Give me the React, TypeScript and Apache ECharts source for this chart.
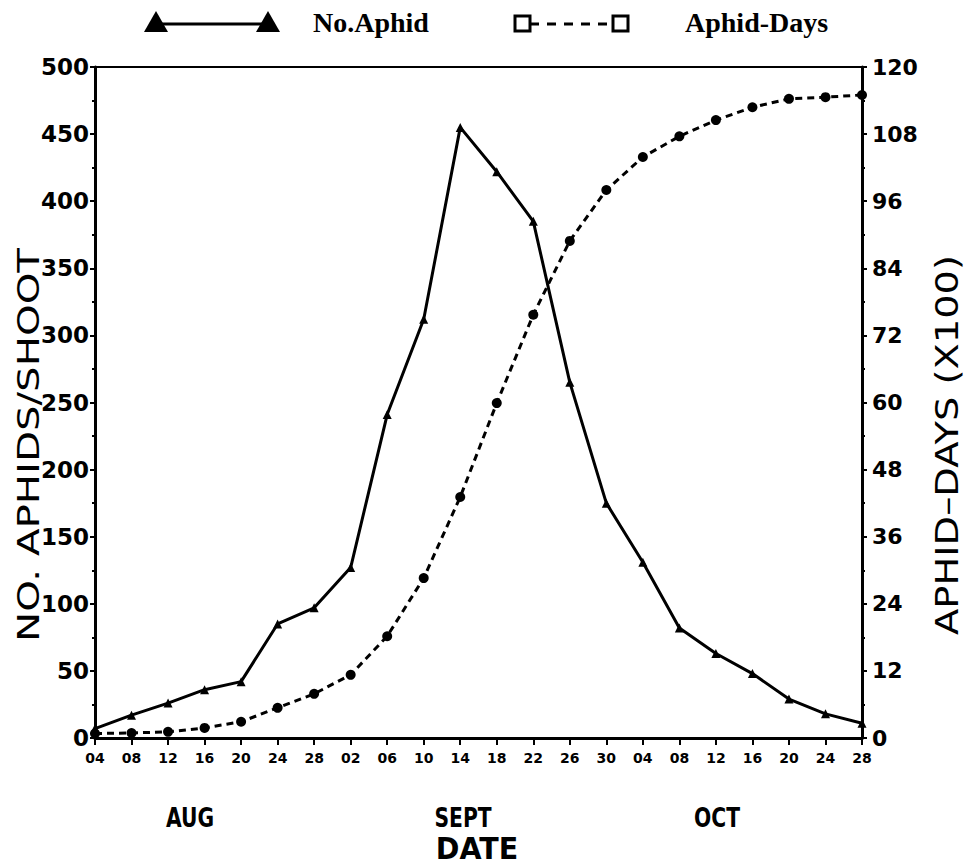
import React, { useEffect, useRef } from "react";
import * as echarts from "echarts";

const dayLabels = ["04","08","12","16","20","24","28","02","06","10","14","18","22","26","30","04","08","12","16","20","24","28"];
const monthOfDay = ["Aug","Aug","Aug","Aug","Aug","Aug","Aug","Sep","Sep","Sep","Sep","Sep","Sep","Sep","Sep","Oct","Oct","Oct","Oct","Oct","Oct","Oct"];
const categories = dayLabels.map((d, i) => `${monthOfDay[i]}-${d}`);

const noAphid = [7, 17, 26, 36, 42, 85, 97, 127, 241, 312, 455, 422, 385, 265, 175, 131, 82, 63, 48, 29, 18, 11];
const aphidDays = [0.8, 0.9, 1.1, 1.8, 2.9, 5.4, 7.9, 11.3, 18.2, 28.6, 43.1, 59.9, 75.7, 88.9, 98.0, 103.9, 107.6, 110.5, 112.8, 114.3, 114.6, 115.0];

const monthLabels = ["AUG", "SEPT", "OCT"];
const leftTitle = "NO. APHIDS/SHOOT";
const rightTitle = "APHID\u2013DAYS (X100)";
const xTitle = "DATE";
const legendNames = ["No.Aphid", "Aphid-Days"];

const SANS = "DejaVu Sans";
const SERIF = "Liberation Serif";

export default function App() {
  const ref = useRef<HTMLDivElement>(null);
  useEffect(() => {
    if (!ref.current) return;
    const chart = echarts.init(ref.current, null, { renderer: "svg" });
    const tickFont = { color: "#000", fontFamily: SANS, fontWeight: "bold" as const };
    const monthText = (i: number, x: number) => ({
      type: "text", x, y: 818, scaleX: 0.78,
      style: { text: monthLabels[i], font: `bold 26px "${SANS}"`, fill: "#000", align: "center", verticalAlign: "middle" },
    });
    const option: any = {
      animation: false,
      backgroundColor: "#fff",
      grid: {
        left: 95, right: 106, top: 67, bottom: 127,
        show: true, borderColor: "#000", borderWidth: 2, backgroundColor: "transparent",
      },
      xAxis: {
        type: "category",
        data: categories,
        boundaryGap: false,
        axisLine: { lineStyle: { color: "#000", width: 3 } },
        axisTick: { show: true, inside: false, length: 7, alignWithLabel: true, interval: 0, lineStyle: { color: "#000", width: 2 } },
        axisLabel: { ...tickFont, fontSize: 14, interval: 0, margin: 13, formatter: (v: string) => v.split("-")[1] },
        splitLine: { show: false },
      },
      yAxis: [
        {
          type: "value", min: 0, max: 500, interval: 50, position: "left",
          axisLine: { show: true, lineStyle: { color: "#000", width: 3 } },
          axisTick: { show: true, length: 5, lineStyle: { color: "#000", width: 2 } },
          minorTick: { show: true, splitNumber: 2, length: 3, lineStyle: { color: "#000", width: 2 } },
          axisLabel: { ...tickFont, fontSize: 23, margin: 6 },
          splitLine: { show: false },
        },
        {
          type: "value", min: 0, max: 120, interval: 12, position: "right",
          axisLine: { show: true, lineStyle: { color: "#000", width: 3 } },
          axisTick: { show: true, length: 5, lineStyle: { color: "#000", width: 2 } },
          minorTick: { show: true, splitNumber: 2, length: 3, lineStyle: { color: "#000", width: 2 } },
          axisLabel: { ...tickFont, fontSize: 22, margin: 10 },
          splitLine: { show: false },
        },
      ],
      series: [
        {
          name: legendNames[0], type: "line", data: noAphid, yAxisIndex: 0,
          symbol: "triangle", symbolSize: 9, showAllSymbol: true,
          lineStyle: { color: "#000", width: 3 }, itemStyle: { color: "#000" },
        },
        {
          name: legendNames[1], type: "line", data: aphidDays, yAxisIndex: 1,
          symbol: "circle", symbolSize: 10, showAllSymbol: true,
          lineStyle: { color: "#000", width: 3, type: [7, 5] }, itemStyle: { color: "#000" },
        },
      ],
      graphic: [
        // legend 1
        { type: "line", shape: { x1: 156, y1: 24, x2: 268, y2: 24 }, style: { stroke: "#000", lineWidth: 3 } },
        { type: "polygon", shape: { points: [[156, 11], [144, 32], [168, 32]] }, style: { fill: "#000" } },
        { type: "polygon", shape: { points: [[268, 11], [256, 32], [280, 32]] }, style: { fill: "#000" } },
        { type: "text", x: 313, y: 22, style: { text: legendNames[0], font: `bold 28px "${SERIF}"`, fill: "#000", verticalAlign: "middle", align: "left" } },
        // legend 2
        { type: "line", shape: { x1: 530, y1: 24, x2: 612, y2: 24 }, style: { stroke: "#000", lineWidth: 3, lineDash: [9, 8] } },
        { type: "rect", shape: { x: 515, y: 16, width: 15, height: 15 }, style: { fill: "#fff", stroke: "#000", lineWidth: 3 } },
        { type: "rect", shape: { x: 613, y: 16, width: 15, height: 15 }, style: { fill: "#fff", stroke: "#000", lineWidth: 3 } },
        { type: "text", x: 685, y: 22, style: { text: legendNames[1], font: `bold 28px "${SERIF}"`, fill: "#000", verticalAlign: "middle", align: "left" } },
        // axis titles
        { type: "text", x: 28, y: 445, rotation: Math.PI / 2, scaleX: 1.3, style: { text: leftTitle, font: `31px "${SANS}"`, fill: "#000", align: "center", verticalAlign: "middle" } },
        { type: "text", x: 947, y: 445, rotation: Math.PI / 2, scaleX: 1.2, style: { text: rightTitle, font: `32px "${SANS}"`, fill: "#000", align: "center", verticalAlign: "middle" } },
        // month labels
        monthText(0, 190),
        monthText(1, 463),
        monthText(2, 717),
        { type: "text", x: 477, y: 848, scaleX: 0.92, style: { text: xTitle, font: `bold 31px "${SANS}"`, fill: "#000", align: "center", verticalAlign: "middle" } },
      ],
    };
    chart.setOption(option);
    return () => chart.dispose();
  }, []);
  return <div ref={ref} style={{ position: "absolute", left: 0, top: 0, width: 968, height: 865 }} />;
}
